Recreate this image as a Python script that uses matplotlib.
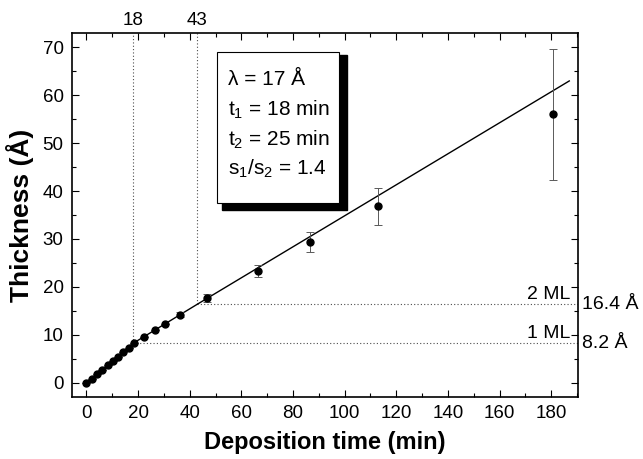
import matplotlib
matplotlib.use("Agg")
import matplotlib.pyplot as plt
import matplotlib.transforms as mtransforms
from matplotlib.patches import Rectangle
import numpy as np

plt.rcParams['font.family'] = ['Liberation Sans', 'DejaVu Sans']

# measured thickness vs deposition time
time_min = [0, 2.2, 4.1, 6.2, 8.3, 10.3, 12.2, 14.3, 16.4, 18.3,
            22.4, 26.5, 30.3, 36.4, 46.6, 66.4, 86.4, 113, 180.8]
thickness = [0, 0.8, 1.8, 2.7, 3.6, 4.5, 5.4, 6.3, 7.3, 8.2,
             9.5, 11.0, 12.3, 14.2, 17.7, 23.3, 29.3, 36.8, 56.0]
thick_err = [0, 0, 0, 0, 0, 0, 0, 0, 0, 0,
             0, 0, 0, 0.5, 0.8, 1.2, 2.1, 3.8, 13.7]

# two-slope growth fit
fit_t = [0, 18, 43, 187]
fit_y = [0, 8.2, 16.4, 63.0]

# monolayer marks
ml_time = [18, 43]
ml_thick = [8.2, 16.4]
ml_names = ['1 ML', '2 ML']
ml_values = ['8.2 Å', '16.4 Å']

info_lines = ['λ = 17 Å',
              r'$\mathregular{t_1}$ = 18 min',
              r'$\mathregular{t_2}$ = 25 min',
              r'$\mathregular{s_1/s_2}$ = 1.4']

fig = plt.figure(figsize=(6.43, 4.59), dpi=100)
ax = fig.add_axes([0.112, 0.135, 0.787, 0.793])

# dotted guide lines
for t, th in zip(ml_time, ml_thick):
    ax.plot([t, t], [th, 73], color='0.3', lw=0.8, ls=(0, (1, 2)))
    ax.plot([t, 190.4], [th, th], color='0.3', lw=0.8, ls=(0, (1, 2)))

ax.plot(fit_t, fit_y, color='black', lw=1.0)
ax.errorbar(time_min, thickness, yerr=thick_err, fmt='o', color='black',
            ms=5, ecolor='0.35', elinewidth=0.7, capsize=3, capthick=0.7)

ax.set_xlim(-5.6, 190.4)
ax.set_ylim(-3, 73)
ax.set_xticks(np.arange(0, 181, 20))
ax.set_xticks(np.arange(0, 191, 10), minor=True)
ax.set_yticks(np.arange(0, 71, 10))
ax.set_yticks(np.arange(-0, 73, 5), minor=True)
ax.tick_params(which='both', direction='in', top=True, right=True, width=0.8)
ax.tick_params(which='major', length=5, labelsize=13.5, pad=6)
ax.tick_params(which='minor', length=3)
for s in ax.spines.values():
    s.set_linewidth(1.2)

ax.set_xlabel('Deposition time (min)', fontsize=17, fontweight='bold', labelpad=6)
ax.set_ylabel('Thickness (Å)', fontsize=19, fontweight='bold', labelpad=6)

# labels for the guide lines
top_tr = mtransforms.blended_transform_factory(ax.transData, ax.transAxes)
right_tr = mtransforms.blended_transform_factory(ax.transAxes, ax.transData)
for t, th, name, val in zip(ml_time, ml_thick, ml_names, ml_values):
    ax.annotate(str(t), xy=(t, 1), xycoords=top_tr, xytext=(0, 3),
                textcoords='offset points', ha='center', va='bottom', fontsize=13.5)
    ax.annotate(name, xy=(0.985, th), xycoords=right_tr, xytext=(0, 1),
                textcoords='offset points', ha='right', va='bottom', fontsize=14)
    ax.annotate(val, xy=(1, th), xycoords=right_tr, xytext=(3, 0),
                textcoords='offset points', ha='left', va='center', fontsize=14,
                annotation_clip=False)

# parameter box with shadow
ax.add_patch(Rectangle((0.296, 0.514), 0.247, 0.426, transform=ax.transAxes,
                       facecolor='black', edgecolor='black', zorder=5))
ax.add_patch(Rectangle((0.2866, 0.533), 0.2414, 0.416, transform=ax.transAxes,
                       facecolor='white', edgecolor='black', lw=0.8, zorder=6))
for y, line in zip([0.872, 0.789, 0.707, 0.628], info_lines):
    ax.text(0.308, y, line, transform=ax.transAxes, fontsize=15,
            va='center', ha='left', zorder=7)

fig.savefig('out.png', dpi=100)
